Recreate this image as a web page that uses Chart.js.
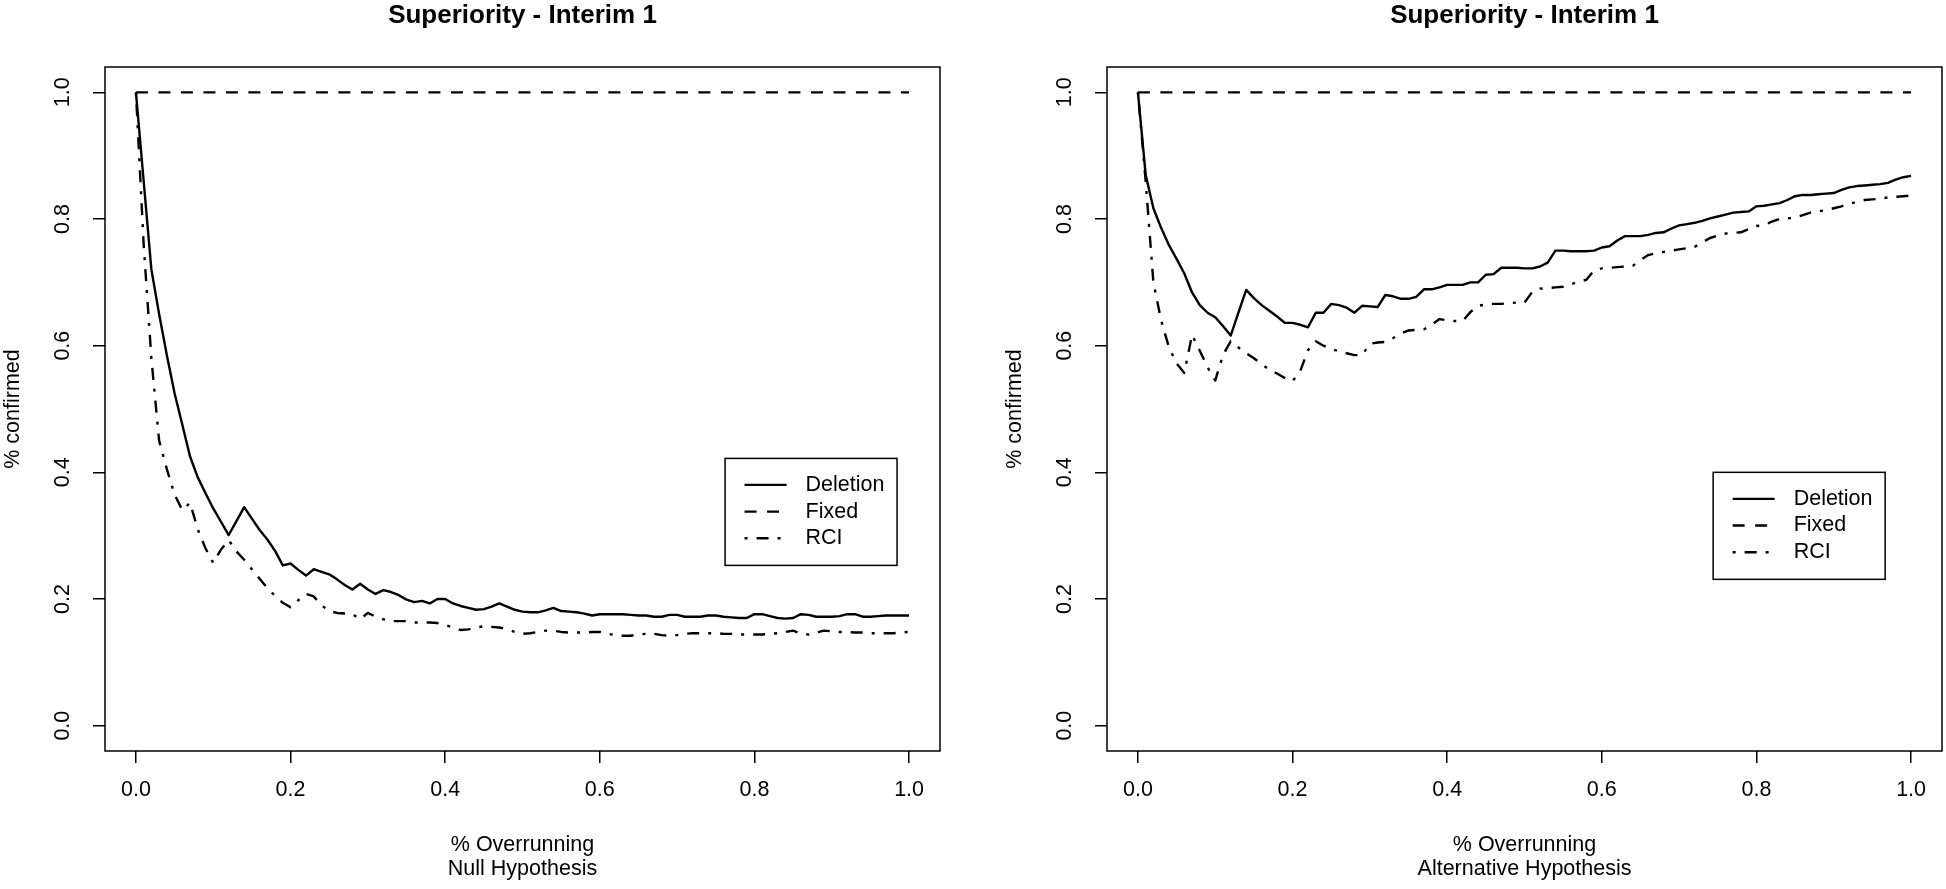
<!DOCTYPE html>
<html>
<head>
<meta charset="utf-8">
<script src="https://cdn.jsdelivr.net/npm/chart.js@4.4.1/dist/chart.umd.min.js"></script>
<style>
  html, body { margin: 0; padding: 0; background: #fff; }
  #wrap { position: relative; width: 1946px; height: 889px; }
  canvas { position: absolute; top: 0; }
</style>
</head>
<body>
<div id="wrap">
  <canvas id="nullChart" width="973" height="889" style="left:0"></canvas>
  <canvas id="altChart" width="973" height="889" style="left:973px"></canvas>
</div>
<script>
// % overrunning (x), one value every 0.01
const overrun = [
  0.00, 0.01, 0.02, 0.03, 0.04, 0.05, 0.06, 0.07, 0.08, 0.09,
  0.10, 0.11, 0.12, 0.13, 0.14, 0.15, 0.16, 0.17, 0.18, 0.19,
  0.20, 0.21, 0.22, 0.23, 0.24, 0.25, 0.26, 0.27, 0.28, 0.29,
  0.30, 0.31, 0.32, 0.33, 0.34, 0.35, 0.36, 0.37, 0.38, 0.39,
  0.40, 0.41, 0.42, 0.43, 0.44, 0.45, 0.46, 0.47, 0.48, 0.49,
  0.50, 0.51, 0.52, 0.53, 0.54, 0.55, 0.56, 0.57, 0.58, 0.59,
  0.60, 0.61, 0.62, 0.63, 0.64, 0.65, 0.66, 0.67, 0.68, 0.69,
  0.70, 0.71, 0.72, 0.73, 0.74, 0.75, 0.76, 0.77, 0.78, 0.79,
  0.80, 0.81, 0.82, 0.83, 0.84, 0.85, 0.86, 0.87, 0.88, 0.89,
  0.90, 0.91, 0.92, 0.93, 0.94, 0.95, 0.96, 0.97, 0.98, 0.99,
  1.00
];

// null hypothesis
const nullDeletion = [
  1.000, 0.860, 0.720, 0.650, 0.585, 0.525, 0.475, 0.425, 0.392, 0.367,
  0.343, 0.322, 0.301, 0.323, 0.345, 0.327, 0.309, 0.294, 0.276, 0.253,
  0.256, 0.246, 0.237, 0.247, 0.243, 0.239, 0.231, 0.222, 0.215, 0.224,
  0.215, 0.208, 0.214, 0.211, 0.206, 0.199, 0.195, 0.197, 0.193, 0.200,
  0.200, 0.193, 0.189, 0.186, 0.183, 0.184, 0.188, 0.193, 0.188, 0.183,
  0.180, 0.179, 0.179, 0.182, 0.186, 0.181, 0.180, 0.179, 0.177, 0.174,
  0.176, 0.176, 0.176, 0.176, 0.175, 0.174, 0.174, 0.172, 0.172, 0.175,
  0.175, 0.172, 0.172, 0.172, 0.174, 0.174, 0.172, 0.171, 0.170, 0.170,
  0.176, 0.176, 0.173, 0.170, 0.169, 0.170, 0.176, 0.175, 0.172, 0.172,
  0.172, 0.173, 0.176, 0.176, 0.172, 0.172, 0.173, 0.174, 0.174, 0.174,
  0.174
];
const nullFixed = [
  1, 1, 1, 1, 1, 1, 1, 1, 1, 1, 1, 1, 1, 1, 1, 1, 1, 1, 1, 1,
  1, 1, 1, 1, 1, 1, 1, 1, 1, 1, 1, 1, 1, 1, 1, 1, 1, 1, 1, 1,
  1, 1, 1, 1, 1, 1, 1, 1, 1, 1, 1, 1, 1, 1, 1, 1, 1, 1, 1, 1,
  1, 1, 1, 1, 1, 1, 1, 1, 1, 1, 1, 1, 1, 1, 1, 1, 1, 1, 1, 1,
  1, 1, 1, 1, 1, 1, 1, 1, 1, 1, 1, 1, 1, 1, 1, 1, 1, 1, 1, 1,
  1
];
const nullRCI = [
  1.000, 0.760, 0.580, 0.450, 0.405, 0.365, 0.340, 0.352, 0.310, 0.280,
  0.257, 0.278, 0.293, 0.275, 0.262, 0.247, 0.232, 0.217, 0.205, 0.194,
  0.187, 0.198, 0.208, 0.204, 0.190, 0.181, 0.178, 0.177, 0.176, 0.168,
  0.178, 0.172, 0.168, 0.165, 0.165, 0.165, 0.163, 0.163, 0.163, 0.162,
  0.159, 0.155, 0.151, 0.152, 0.155, 0.157, 0.156, 0.155, 0.152, 0.148,
  0.145, 0.146, 0.148, 0.150, 0.150, 0.148, 0.147, 0.147, 0.147, 0.148,
  0.148, 0.145, 0.143, 0.142, 0.142, 0.144, 0.145, 0.145, 0.143, 0.142,
  0.143, 0.145, 0.146, 0.146, 0.146, 0.146, 0.145, 0.145, 0.144, 0.144,
  0.144, 0.144, 0.145, 0.146, 0.148, 0.150, 0.145, 0.144, 0.147, 0.150,
  0.149, 0.148, 0.148, 0.147, 0.147, 0.146, 0.146, 0.146, 0.146, 0.147,
  0.148
];

// alternative hypothesis
const altDeletion = [
  1.000, 0.870, 0.817, 0.786, 0.759, 0.737, 0.714, 0.684, 0.664, 0.652,
  0.645, 0.631, 0.616, 0.652, 0.688, 0.675, 0.664, 0.655, 0.646, 0.636,
  0.636, 0.633, 0.629, 0.652, 0.652, 0.666, 0.664, 0.660, 0.652, 0.663,
  0.662, 0.661, 0.680, 0.678, 0.674, 0.674, 0.677, 0.689, 0.689, 0.692,
  0.696, 0.696, 0.696, 0.700, 0.700, 0.712, 0.713, 0.723, 0.723, 0.723,
  0.722, 0.722, 0.725, 0.731, 0.750, 0.750, 0.749, 0.749, 0.749, 0.750,
  0.755, 0.757, 0.766, 0.773, 0.773, 0.773, 0.775, 0.778, 0.779, 0.785,
  0.790, 0.792, 0.794, 0.797, 0.801, 0.804, 0.807, 0.810, 0.811, 0.812,
  0.820, 0.821, 0.823, 0.825, 0.830, 0.836, 0.838, 0.838, 0.839, 0.840,
  0.841, 0.846, 0.850, 0.852, 0.853, 0.854, 0.855, 0.857, 0.862, 0.866,
  0.868
];
const altFixed = nullFixed;
const altRCI = [
  1.000, 0.860, 0.700, 0.640, 0.598, 0.572, 0.557, 0.617, 0.592, 0.566,
  0.545, 0.585, 0.607, 0.597, 0.588, 0.580, 0.571, 0.562, 0.556, 0.549,
  0.544, 0.560, 0.593, 0.607, 0.600, 0.595, 0.591, 0.588, 0.585, 0.585,
  0.603, 0.605, 0.606, 0.612, 0.619, 0.624, 0.625, 0.626, 0.633, 0.642,
  0.640, 0.639, 0.639, 0.653, 0.663, 0.665, 0.666, 0.666, 0.667, 0.668,
  0.668, 0.685, 0.690, 0.691, 0.692, 0.693, 0.697, 0.701, 0.704, 0.719,
  0.722, 0.723, 0.724, 0.725, 0.726, 0.735, 0.743, 0.746, 0.748, 0.750,
  0.752, 0.754, 0.756, 0.763, 0.770, 0.774, 0.777, 0.778, 0.779, 0.784,
  0.789, 0.790, 0.796, 0.800, 0.801, 0.802, 0.806, 0.810, 0.812, 0.814,
  0.817, 0.820, 0.824, 0.827, 0.830, 0.831, 0.832, 0.834, 0.835, 0.836,
  0.837
];

const xTicks = [0, 0.2, 0.4, 0.6, 0.8, 1.0];
const xTickLabels = ['0.0', '0.2', '0.4', '0.6', '0.8', '1.0'];
const yTicks = [0, 0.2, 0.4, 0.6, 0.8, 1.0];
const yTickLabels = ['0.0', '0.2', '0.4', '0.6', '0.8', '1.0'];

Chart.defaults.font.family = '"Liberation Sans", Arial, sans-serif';
Chart.defaults.color = '#000';

const FONT = 21.5;

// box round the plot region, like R's box()
const rFrame = {
  id: 'rFrame',
  afterDraw(chart) {
    const { ctx, chartArea: a } = chart;
    ctx.save();
    ctx.strokeStyle = '#000';
    ctx.lineWidth = 1.5;
    ctx.strokeRect(a.left, a.top, a.right - a.left, a.bottom - a.top);
    ctx.restore();
  }
};

// legend box placed at a data position (top-left corner)
const rLegend = {
  id: 'rLegend',
  afterDraw(chart, args, opts) {
    const { ctx, scales } = chart;
    const left = scales.x.getPixelForValue(opts.x);
    const top = scales.y.getPixelForValue(opts.y);
    ctx.save();
    ctx.strokeStyle = '#000';
    ctx.fillStyle = '#000';
    ctx.lineWidth = 1.5;
    ctx.strokeRect(left, top, 172, 107);
    ctx.font = FONT + 'px "Liberation Sans", Arial, sans-serif';
    ctx.textBaseline = 'middle';
    chart.data.datasets.forEach((ds, i) => {
      const cy = top + 26.5 + i * 26.7;
      ctx.beginPath();
      ctx.setLineDash(ds.borderDash || []);
      ctx.lineWidth = ds.borderWidth;
      ctx.moveTo(left + 19.5, cy);
      ctx.lineTo(left + 61.5, cy);
      ctx.stroke();
      ctx.setLineDash([]);
      ctx.fillText(ds.label, left + 80.5, cy);
    });
    ctx.restore();
  }
};

const toPoints = (ys) => overrun.map((x, i) => ({ x: x, y: ys[i] }));

function makeChart(id, subTitle, deletion, fixed, rci, padLeft, padRight, legendAt) {
  const lineStyle = { borderColor: '#000', borderWidth: 2.4, pointRadius: 0, tension: 0, fill: false, borderJoinStyle: 'round' };
  return new Chart(document.getElementById(id), {
    type: 'line',
    data: {
      datasets: [
        { ...lineStyle, label: 'Deletion', data: toPoints(deletion), borderDash: [] },
        { ...lineStyle, label: 'Fixed', data: toPoints(fixed), borderDash: [12, 10.5] },
        { ...lineStyle, label: 'RCI', data: toPoints(rci), borderDash: [3, 9, 12, 9] }
      ]
    },
    options: {
      responsive: false,
      animation: false,
      events: [],
      layout: { padding: { left: padLeft, right: padRight, top: 0, bottom: 0 } },
      plugins: {
        legend: { display: false },
        tooltip: { enabled: false },
        title: {
          display: true,
          text: 'Superiority - Interim 1',
          fullSize: false,
          color: '#000',
          font: { size: 26, weight: 'bold', lineHeight: 1.2 },
          padding: { top: 0, bottom: 35.8 }
        },
        rLegend: legendAt
      },
      scales: {
        x: {
          type: 'linear',
          position: 'bottom',
          min: -0.04,
          max: 1.04,
          afterBuildTicks: (s) => { s.ticks = xTicks.map((v) => ({ value: v })); },
          afterFit: (s) => { s.height = 138; },
          grid: { display: true, drawOnChartArea: false, drawTicks: true, tickLength: 12, color: '#000', lineWidth: 1.5 },
          border: { display: false },
          ticks: {
            callback: (v, i) => xTickLabels[i],
            autoSkip: false,
            maxRotation: 0,
            padding: 14,
            color: '#000',
            font: { size: FONT, lineHeight: 1.2 }
          },
          title: {
            display: true,
            text: ['% Overrunning', subTitle],
            color: '#000',
            font: { size: FONT, lineHeight: '24px' },
            padding: { top: 0, bottom: 8 }
          }
        },
        y: {
          type: 'linear',
          position: 'left',
          min: -0.04,
          max: 1.04,
          afterBuildTicks: (s) => { s.ticks = yTicks.map((v) => ({ value: v })); },
          afterFit: (s) => { s.width = 105; },
          grid: { display: true, drawOnChartArea: false, drawTicks: true, tickLength: 12, color: '#000', lineWidth: 1.5 },
          border: { display: false },
          ticks: {
            callback: (v, i) => yTickLabels[i],
            autoSkip: false,
            minRotation: 90,
            maxRotation: 90,
            crossAlign: 'center',
            padding: 15,
            color: '#000',
            font: { size: FONT, lineHeight: 1.2 }
          },
          title: {
            display: true,
            text: '% confirmed',
            color: '#000',
            font: { size: FONT, lineHeight: '24px' },
            padding: { top: 1, bottom: 0 }
          }
        }
      }
    },
    plugins: [rFrame, rLegend]
  });
}

makeChart('nullChart', 'Null Hypothesis', nullDeletion, nullFixed, nullRCI, 0, 33, { x: 0.762, y: 0.422 });
makeChart('altChart', 'Alternative Hypothesis', altDeletion, altFixed, altRCI, 29, 4, { x: 0.744, y: 0.40 });
</script>
</body>
</html>
